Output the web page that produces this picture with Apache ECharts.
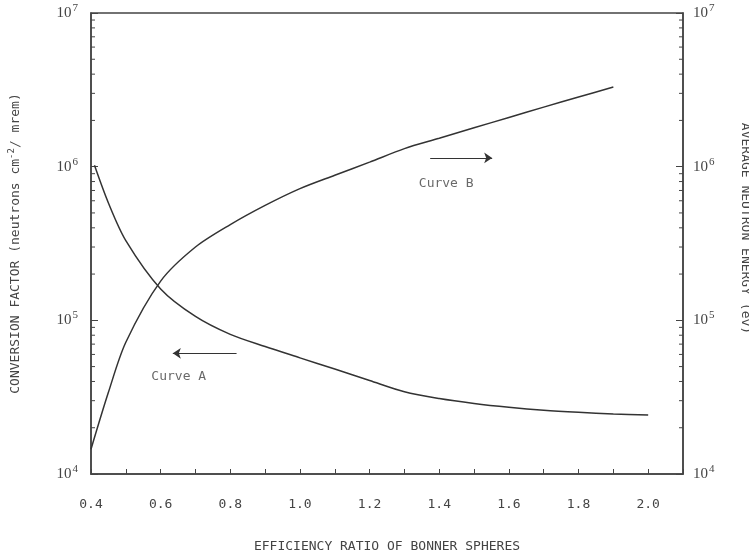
<!DOCTYPE html>
<html>
<head>
<meta charset="utf-8">
<script src="https://cdn.jsdelivr.net/npm/echarts@6/dist/echarts.min.js"></script>
<style>html,body{margin:0;padding:0;background:#fff;}#c{width:749px;height:559px;}</style>
</head>
<body>
<div id="c"></div>
<script>
// Curve A: conversion factor (left axis)
const effRatioA = [0.41, 0.45, 0.5, 0.6, 0.7, 0.8, 0.9, 1.0, 1.1, 1.2, 1.3, 1.4, 1.5, 1.6, 1.7, 1.8, 1.9, 2.0];
const conversionA = [1.02e6, 5.8e5, 3.3e5, 1.6e5, 1.06e5, 8.1e4, 6.75e4, 5.7e4, 4.82e4, 4.06e4, 3.43e4, 3.1e4, 2.88e4, 2.72e4, 2.6e4, 2.52e4, 2.46e4, 2.42e4];
// Curve B: average neutron energy (right axis)
const effRatioB = [0.4, 0.45, 0.5, 0.6, 0.7, 0.8, 0.9, 1.0, 1.1, 1.2, 1.3, 1.4, 1.5, 1.6, 1.7, 1.8, 1.9];
const energyB = [1.45e4, 3.4e4, 7.2e4, 1.8e5, 3.0e5, 4.2e5, 5.6e5, 7.2e5, 8.8e5, 1.07e6, 1.31e6, 1.53e6, 1.79e6, 2.09e6, 2.44e6, 2.84e6, 3.3e6];
// Axis ranges / ticks
const xMin = 0.4, xMax = 2.1, xStep = 0.1;
const yMin = 1e4, yMax = 1e7;
const minorTickValues = [];
for (const d of [1e4, 1e5, 1e6]) for (const m of [2, 3, 4, 5, 6, 7, 8, 9]) minorTickValues.push(m * d);
// Annotations
const arrowA = [[0.818, 6.1e4], [0.635, 6.1e4]];
const arrowB = [[1.374, 1.14e6], [1.552, 1.14e6]];
const labelA = { text: 'Curve A', at: [0.652, 4.3e4] };
const labelB = { text: 'Curve B', at: [1.42, 7.8e5] };

const mono = 'DejaVu Sans Mono';
const serif = 'Liberation Serif';
const ink = '#333';

const chart = echarts.init(document.getElementById('c'));
const expLabel = v => {
  const e = Math.round(Math.log10(v));
  return '{b|10}{s|' + e + '}';
};
const yRich = {
  b: { fontFamily: serif, fontSize: 15, color: '#444' },
  s: { fontFamily: serif, fontSize: 11, color: '#444', padding: [0, 0, 10, 1] }
};
const arrowMarkLine = seg => ({
  silent: true, symbol: ['none', 'arrow'], symbolSize: 8,
  lineStyle: { color: ink, width: 1.2, type: 'solid' }, label: { show: false },
  emphasis: { disabled: true },
  data: [[{ coord: seg[0] }, { coord: seg[1] }]]
});

chart.setOption({
  animation: false,
  backgroundColor: '#fff',
  grid: { left: 91, right: 66, top: 13, bottom: 85, containLabel: false, outerBoundsMode: 'none', show: true, borderColor: '#444', borderWidth: 1.5 },
  xAxis: {
    type: 'value', min: xMin, max: xMax, interval: xStep,
    name: 'EFFICIENCY RATIO OF BONNER SPHERES', nameLocation: 'middle', nameGap: 66,
    nameTextStyle: { fontFamily: mono, fontSize: 13, color: '#444' },
    axisLine: { show: true, lineStyle: { color: '#444', width: 1.5 } },
    axisTick: { show: true, inside: true, length: 5, lineStyle: { color: '#444' } },
    axisLabel: {
      margin: 24, fontFamily: mono, fontSize: 13, color: '#444',
      formatter: v => { const t = Math.round(v * 10); return (t % 2 === 0 && t <= 20) ? (t / 10).toFixed(1) : ''; }
    },
    splitLine: { show: false }
  },
  yAxis: [
    {
      type: 'log', logBase: 10, min: yMin, max: yMax, position: 'left',
      name: '{t|CONVERSION FACTOR (neutrons cm}{u|-2}{t|/ mrem)}', nameLocation: 'middle', nameGap: 66,
      nameTextStyle: { rich: { t: { fontFamily: mono, fontSize: 13, color: '#444' }, u: { fontFamily: mono, fontSize: 9, color: '#444', padding: [0, 0, 9, 0] } } },
      axisLine: { show: true, lineStyle: { color: '#444', width: 1.5 } },
      axisTick: { show: true, inside: true, length: 7, lineStyle: { color: '#444' } },
      axisLabel: { margin: 13, formatter: expLabel, rich: yRich },
      splitLine: { show: false }
    },
    {
      type: 'log', logBase: 10, min: yMin, max: yMax, position: 'right',
      name: 'AVERAGE NEUTRON ENERGY (ev)', nameLocation: 'middle', nameGap: 56, nameRotate: -90,
      nameTextStyle: { fontFamily: mono, fontSize: 13, color: '#444', padding: [0, 30, 0, 0] },
      axisLine: { show: true, lineStyle: { color: '#444', width: 1.5 } },
      axisTick: { show: true, inside: true, length: 7, lineStyle: { color: '#444' } },
      axisLabel: { margin: 10, formatter: expLabel, rich: yRich },
      splitLine: { show: false }
    }
  ],
  series: [
    {
      name: 'Curve A', type: 'line', yAxisIndex: 0, smooth: 0.3, symbol: 'none',
      lineStyle: { color: ink, width: 1.5 },
      data: effRatioA.map((x, i) => [x, conversionA[i]]),
      markLine: arrowMarkLine(arrowA)
    },
    {
      name: 'Curve B', type: 'line', yAxisIndex: 1, smooth: 0.3, symbol: 'none',
      lineStyle: { color: ink, width: 1.5 },
      data: effRatioB.map((x, i) => [x, energyB[i]]),
      markLine: arrowMarkLine(arrowB)
    },
    {
      type: 'scatter', yAxisIndex: 0, symbolSize: 0, silent: true,
      label: { show: true, position: 'inside', formatter: p => p.name, fontFamily: mono, fontSize: 13, color: '#444' },
      data: [
        { name: labelA.text, value: labelA.at },
        { name: labelB.text, value: labelB.at }
      ]
    },
    {
      type: 'custom', yAxisIndex: 0, silent: true,
      data: minorTickValues.map(v => [xMin, v]),
      renderItem: (params, api) => {
        const p = api.coord([api.value(0), api.value(1)]);
        return { type: 'line', shape: { x1: p[0], y1: p[1], x2: p[0] + 4, y2: p[1] }, style: { stroke: '#444', lineWidth: 1 } };
      }
    },
    {
      type: 'custom', yAxisIndex: 1, silent: true,
      data: minorTickValues.map(v => [xMax, v]),
      renderItem: (params, api) => {
        const p = api.coord([api.value(0), api.value(1)]);
        return { type: 'line', shape: { x1: p[0], y1: p[1], x2: p[0] - 4, y2: p[1] }, style: { stroke: '#444', lineWidth: 1 } };
      }
    }
  ]
});
</script>
</body>
</html>
